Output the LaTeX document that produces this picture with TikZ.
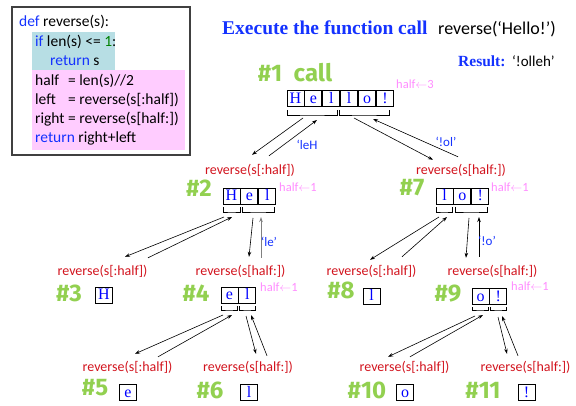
\documentclass[tikz,border=0pt]{standalone}
\usepackage{fontspec}
\setmainfont{Carlito}
\newfontfamily\serif{Liberation Serif}
\newfontfamily\numfont{Fira Sans}
\usetikzlibrary{positioning,arrows.meta}
\definecolor{codeblue}{RGB}{20,50,255}
\definecolor{codegreen}{RGB}{0,128,0}
\definecolor{callred}{RGB}{210,20,30}
\definecolor{callgreen}{RGB}{146,208,80}
\definecolor{halfpink}{RGB}{255,140,255}
\definecolor{ifcyan}{RGB}{183,222,228}
\definecolor{bodypink}{RGB}{255,204,255}

\begin{document}
\begin{tikzpicture}[x=1pt,y=-1pt,
  code/.style={anchor=base west, inner sep=0pt, font=\fontsize{15.5}{15.5}\selectfont},
  call/.style={text=callred, inner sep=0pt, text height=10pt, text depth=3pt, font=\fontsize{14}{14}\selectfont},
  num/.style={text=callgreen, inner sep=0pt, font=\numfont\bfseries\fontsize{24}{24}\selectfont},
  half/.style={text=halfpink, inner sep=0pt, font=\fontsize{12.5}{12.5}\selectfont},
  ret/.style={text=codeblue, inner sep=0pt, font=\fontsize{13}{13}\selectfont},
  cell/.style={draw, line width=0.9pt, minimum width=17pt, minimum height=16pt, inner sep=0pt,
    text height=11pt, text depth=1pt, text=blue, font=\serif\fontsize{16}{16}\selectfont},
  brace/.style={line width=0.8pt},
  arr/.style={-{Stealth[length=5pt,width=3.5pt]}, line width=0.6pt}]
\useasboundingbox (0,0) rectangle (576,406);

\fill[ifcyan] (32,32) rectangle (115,70);
\fill[bodypink] (32,70) rectangle (185,150);
\draw[line width=1.2pt, draw=black!75] (12,7) rectangle (190,155);
\node[code] (code1) at (19,27) {{\color{codeblue}def} reverse(s):};
\node[code] (code2) at (35,47) {{\color{codeblue}if} len(s) <= {\color{codegreen}1}:};
\node[code] (code3) at (50,66) {{\color{codeblue}return} s};
\node[code] (code4) at (35,86) {\makebox[33pt][l]{half}= len(s)//2};
\node[code] (code5) at (35,105) {\makebox[33pt][l]{left}= reverse(s[:half])};
\node[code] (code6) at (35,124) {\makebox[33pt][l]{right}= reverse(s[half:])};
\node[code] (code7) at (35,143) {{\color{codeblue}return} right+left};

\node[anchor=base west, inner sep=0pt, text=codeblue, font=\serif\bfseries\fontsize{19.5}{19.5}\selectfont] (title) at (222,35) {Execute the function call};
\node[anchor=base west, inner sep=0pt, font=\fontsize{18}{18}\selectfont] (call0) at (438,35) {reverse(`Hello!')};
\node[anchor=base west, inner sep=0pt, text=codeblue, font=\serif\bfseries\fontsize{15.5}{15.5}\selectfont] (res) at (458,67) {Result:};
\node[anchor=base west, inner sep=0pt, font=\fontsize{15}{15}\selectfont] (resval) at (512,67) {`!olleh'};

\node[num] (n1) at (295,73) {\#1~~call};
\node[half] (h1) at (415,84) {half\ensuremath{\leftarrow}3};
\node[cell] (c1a) at (295.5,98.5) {H};
\node[cell] (c1b) [right=0pt of c1a] {e};
\node[cell] (c1c) [right=0pt of c1b] {l};
\node[cell] (c1d) [right=0pt of c1c] {l};
\node[cell] (c1e) [right=0pt of c1d] {o};
\node[cell] (c1f) [right=0pt of c1e] {!};
\draw[brace] (287,110) |- (312,115) coordinate (b1l) -| (337,110);
\draw[brace] (339,110) |- (364,115) coordinate (b1r) -| (389,110);

\node[call] (r2) at (250,171) {reverse(s[:half])};
\node[num] (n2) at (199,188) {\#2};
\node[half] (h2) at (298,187) {half\ensuremath{\leftarrow}1};
\node[cell] (c2a) at (231.5,196) {H};
\node[cell] (c2b) [right=0pt of c2a] {e};
\node[cell] (c2c) [right=0pt of c2b] {l};
\draw[brace] (223,207) |- (231.5,212) coordinate (b2l) -| (240,207);
\draw[brace] (242,207) |- (258,212) coordinate (b2r) -| (274,207);

\node[call] (r7) at (461,171) {reverse(s[half:])};
\node[num] (n7) at (412,188) {\#7};
\node[half] (h7) at (510,187) {half\ensuremath{\leftarrow}1};
\node[cell] (c7a) at (444.5,196) {l};
\node[cell] (c7b) [right=0pt of c7a] {o};
\node[cell] (c7c) [right=0pt of c7b] {!};
\draw[brace] (436,207) |- (444,212) coordinate (b7l) -| (452,207);
\draw[brace] (455,207) |- (471,212) coordinate (b7r) -| (487,207);

\node[call] (r3) at (102.5,272) {reverse(s[:half])};
\node[num] (n3) at (69,293) {\#3};
\node[cell] (c3a) at (104,295) {H};

\node[call] (r4) at (240.5,272) {reverse(s[half:])};
\node[num] (n4) at (196,293) {\#4};
\node[half] (h4) at (279,287) {half\ensuremath{\leftarrow}1};
\node[cell] (c4a) at (229.5,295) {e};
\node[cell] (c4b) [right=0pt of c4a] {l};
\draw[brace] (221,306) |- (229,310) coordinate (b4l) -| (237,306);
\draw[brace] (239,306) |- (247,310) coordinate (b4r) -| (255,306);

\node[call] (r8) at (371.5,272) {reverse(s[:half])};
\node[num] (n8) at (341,290) {\#8};
\node[cell] (c8a) at (371.5,296) {l};

\node[call] (r9) at (492.5,272) {reverse(s[half:])};
\node[num] (n9) at (448,294) {\#9};
\node[half] (h9) at (530,286) {half\ensuremath{\leftarrow}1};
\node[cell] (c9a) at (480.5,296.5) {o};
\node[cell] (c9b) [right=0pt of c9a] {!};
\draw[brace] (472,307) |- (480,310) coordinate (b9l) -| (488,307);
\draw[brace] (490,307) |- (498,310) coordinate (b9r) -| (506,307);

\node[call] (r5) at (127.5,368) {reverse(s[:half])};
\node[num] (n5) at (95,388) {\#5};
\node[cell] (c5a) at (128,392) {e};
\node[call] (r6) at (248,368) {reverse(s[half:])};
\node[num] (n6) at (210,390) {\#6};
\node[cell] (c6a) at (249,392) {l};
\node[call] (r10) at (404.5,368) {reverse(s[:half])};
\node[num] (n10) at (367,390) {\#10};
\node[cell] (c10a) at (405,392) {o};
\node[call] (r11) at (525.5,368) {reverse(s[half:])};
\node[num] (n11) at (483,390) {\#11};
\node[cell] (c11a) at (526.5,392) {!};

\draw[arr] ([shift={(-9,3)}]b1l) -- ([shift={(2,-9.5)}]r2.north);
\draw[arr] ([shift={(19,-8.5)}]r2.north) -- ([shift={(5,5)}]b1l);
\draw[arr] ([shift={(-10,3)}]b1r) -- ([shift={(-28,-4.5)}]r7.north);
\draw[arr] ([shift={(-3,-7.5)}]r7.north) -- ([shift={(9,4)}]b1r);
\node[ret] (v1) at (307,145) {`leH};
\node[ret] (v7) at (446,142) {`!ol'};

\draw[arr] ([shift={(-7.5,5)}]b2l) -- ([shift={(22.5,-8.5)}]r3.north);
\draw[arr] ([shift={(45.5,-7.5)}]r3.north) -- ([shift={(0.5,5)}]b2l);
\draw[arr] ([shift={(-5,6)}]b2r) -- ([shift={(8.5,-8.5)}]r4.north);
\draw[arr, gray, line width=1pt] ([shift={(20.5,-7.5)}]r4.north) -- ([shift={(3,5)}]b2r);
\node[ret] (v4) at (269,242) {`le'};

\draw[arr] ([shift={(-5,5)}]b7l) -- ([shift={(-1.5,-5.5)}]r8.north);
\draw[arr] ([shift={(30.5,-8.5)}]r8.north) -- ([shift={(3,5)}]b7l);
\draw[arr] ([shift={(-2,6)}]b7r) -- ([shift={(-26.5,-7.5)}]r9.north);
\draw[arr] ([shift={(-13.5,-8.5)}]r9.north) -- ([shift={(8,5)}]b7r);
\node[ret] (v9) at (487,241) {`!o'};

\draw[arr] ([shift={(-6,5)}]b4l) -- ([shift={(7.5,-7.5)}]r5.north);
\draw[arr] ([shift={(30.5,-4.5)}]r5.north) -- ([shift={(3,5)}]b4l);
\draw[arr] ([shift={(-1,6)}]b4r) -- ([shift={(8,-7.5)}]r6.north);
\draw[arr] ([shift={(19,-5.5)}]r6.north) -- ([shift={(4,5)}]b4r);

\draw[arr] ([shift={(-5,6)}]b9l) -- ([shift={(-16.5,-4.5)}]r10.north);
\draw[arr] ([shift={(5.5,-4.5)}]r10.north) -- ([shift={(3,5)}]b9l);
\draw[arr] ([shift={(0,7)}]b9r) -- ([shift={(-18.5,-7.5)}]r11.north);
\draw[arr] ([shift={(-7.5,-5.5)}]r11.north) -- ([shift={(4,6)}]b9r);
\end{tikzpicture}
\end{document}
